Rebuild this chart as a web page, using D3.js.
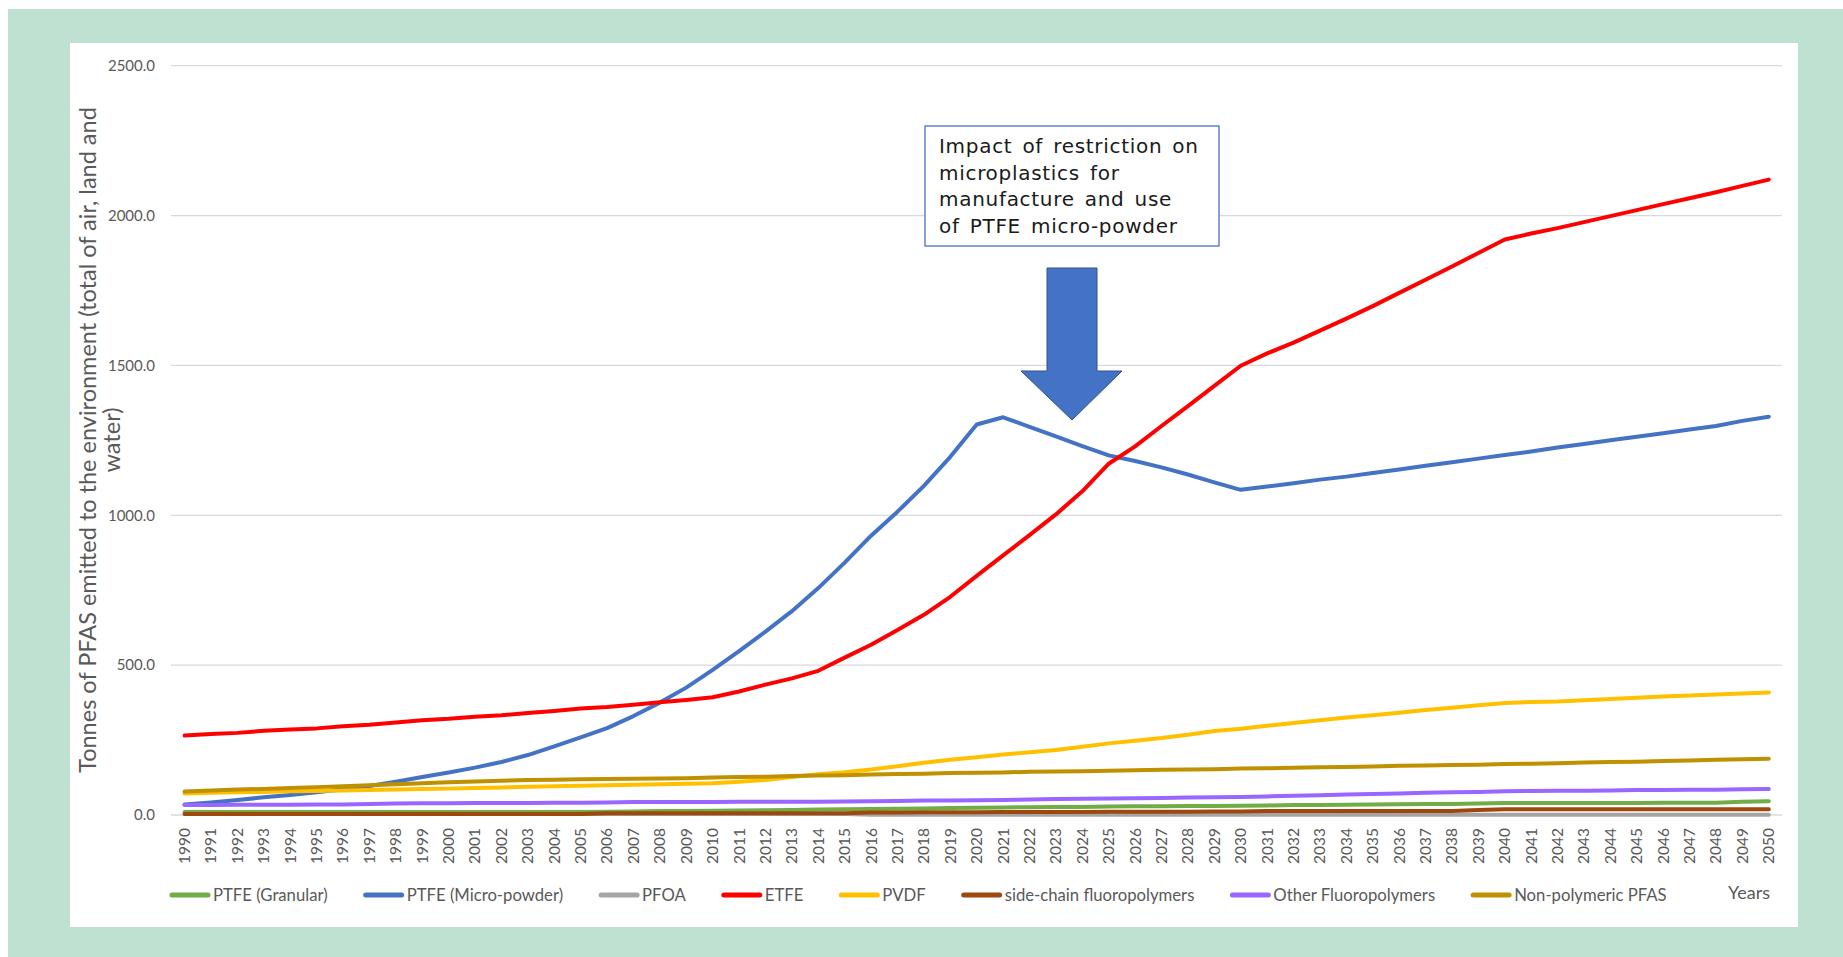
<!DOCTYPE html>
<html>
<head>
<meta charset="utf-8">
<script src="https://cdn.jsdelivr.net/npm/d3@7"></script>
<style>
  html, body { margin: 0; padding: 0; background: #fff; }
  svg { display: block; }
</style>
</head>
<body>
<div id="chart"></div>
<script>
const width = 1843;
const height = 957;

// categories (x axis)
const years = [1990, 1991, 1992, 1993, 1994, 1995, 1996, 1997, 1998, 1999,
  2000, 2001, 2002, 2003, 2004, 2005, 2006, 2007, 2008, 2009,
  2010, 2011, 2012, 2013, 2014, 2015, 2016, 2017, 2018, 2019,
  2020, 2021, 2022, 2023, 2024, 2025, 2026, 2027, 2028, 2029,
  2030, 2031, 2032, 2033, 2034, 2035, 2036, 2037, 2038, 2039,
  2040, 2041, 2042, 2043, 2044, 2045, 2046, 2047, 2048, 2049, 2050];

// tonnes per year
const ptfeGranular = [10, 10, 10, 10, 10, 10, 10, 10, 10, 10,
  10, 10, 10, 10, 10, 10, 11, 12, 13, 13,
  14, 15, 16, 17, 18, 19, 20, 21, 22, 23,
  24, 25, 26, 27, 27, 28, 29, 29, 30, 30,
  31, 32, 33, 33, 34, 35, 36, 37, 37, 38,
  40, 40, 40, 40, 40, 40, 41, 41, 41, 44, 46];
const ptfeMicro = [35, 42, 50, 59, 67, 76, 86, 97, 111, 127,
  142, 158, 177, 200, 229, 259, 290, 330, 375, 425,
  484, 547, 612, 680, 757, 842, 932, 1012, 1098, 1195,
  1303, 1327, 1295, 1263, 1231, 1200, 1181, 1160, 1136, 1110,
  1085, 1096, 1107, 1119, 1129, 1141, 1153, 1165, 1177, 1189,
  1201, 1213, 1226, 1238, 1250, 1262, 1274, 1286, 1298, 1315, 1329];
const pfoa = [3, 3, 3, 3, 3, 3, 3, 3, 3, 3,
  3, 3, 3, 3, 3, 3, 3, 3, 3, 3,
  3, 3, 3, 3, 3, 3, 1, 1, 1, 1,
  1, 1, 1, 1, 1, 1, 1, 1, 1, 1,
  1, 1, 1, 1, 1, 1, 1, 1, 1, 1,
  1, 1, 1, 1, 1, 1, 1, 1, 1, 1, 1];
const etfe = [265, 270, 274, 281, 285, 289, 296, 301, 309, 316,
  321, 328, 333, 340, 347, 355, 360, 368, 376, 384,
  393, 412, 435, 456, 481, 525, 568, 617, 668, 728,
  798, 866, 934, 1003, 1080, 1172, 1230, 1298, 1364, 1432,
  1499, 1540, 1576, 1616, 1656, 1698, 1742, 1786, 1830, 1875,
  1920, 1940, 1958, 1978, 1998, 2018, 2038, 2058, 2078, 2099, 2120];
const pvdf = [72, 74, 76, 77, 79, 80, 82, 83, 85, 87,
  88, 90, 92, 94, 96, 98, 99, 101, 103, 104,
  106, 111, 117, 127, 136, 143, 152, 163, 174, 184,
  193, 202, 209, 217, 228, 239, 248, 257, 268, 280,
  288, 298, 307, 316, 325, 333, 341, 350, 358, 366,
  374, 377, 379, 383, 387, 391, 395, 399, 402, 405, 409];
const sideChain = [3, 3, 3, 3, 3, 3, 3, 3, 3, 3,
  3, 3, 3, 3, 3, 3, 6, 6, 6, 6,
  6, 6, 6, 6, 6, 6, 8, 8, 9, 9,
  9, 10, 10, 10, 10, 11, 11, 11, 11, 12,
  12, 13, 13, 13, 13, 13, 13, 13, 13, 17,
  19, 19, 19, 19, 19, 19, 19, 19, 19, 19, 19];
const otherFluoro = [33, 33, 34, 34, 34, 35, 35, 37, 38, 39,
  39, 40, 40, 40, 41, 41, 42, 43, 43, 43,
  43, 44, 44, 44, 44, 45, 46, 47, 48, 48,
  49, 50, 52, 53, 54, 55, 56, 57, 58, 59,
  60, 62, 64, 66, 68, 70, 72, 74, 76, 77,
  79, 80, 81, 81, 82, 83, 83, 84, 84, 86, 87];
const nonPolymeric = [78, 82, 85, 87, 90, 93, 96, 99, 103, 106,
  109, 112, 114, 117, 118, 119, 120, 121, 122, 123,
  125, 127, 128, 130, 132, 133, 135, 137, 138, 140,
  141, 142, 144, 145, 146, 148, 149, 151, 152, 153,
  155, 156, 158, 159, 160, 162, 164, 165, 167, 168,
  170, 171, 173, 175, 177, 178, 180, 182, 184, 186, 188];

const seriesNames = ["PTFE (Granular)", "PTFE (Micro-powder)", "PFOA", "ETFE", "PVDF",
  "side-chain fluoropolymers", "Other Fluoropolymers", "Non-polymeric PFAS"];
const seriesValues = [ptfeGranular, ptfeMicro, pfoa, etfe, pvdf, sideChain, otherFluoro, nonPolymeric];
const seriesColors = ["#70AD47", "#4472C4", "#A5A5A5", "#FF0000", "#FFC000", "#9E480E", "#9966FF", "#BF9000"];

const yTicks = [0, 500, 1000, 1500, 2000, 2500];
const yTitleLines = ["Tonnes of PFAS emitted to the environment (total of air, land and", "water)"];
const noteLines = ["Impact of restriction on", "microplastics for", "manufacture and use", "of PTFE micro-powder"];

const baseFont = "Lato, 'Open Sans', sans-serif";
const textGray = "#595959";

const x = d3.scaleBand().domain(years).range([171.4, 1782]);
const y = d3.scaleLinear().domain([0, 2500]).range([815, 65.7]);
const xc = yr => x(yr) + x.bandwidth() / 2;

const svg = d3.select("#chart").append("svg")
  .attr("width", width)
  .attr("height", height);

// green frame + white chart area
svg.append("rect")
  .attr("x", 8).attr("y", 9)
  .attr("width", width - 8).attr("height", height - 9)
  .attr("fill", "#BEE1D2");
svg.append("rect")
  .attr("x", 70).attr("y", 43)
  .attr("width", 1728).attr("height", 884)
  .attr("fill", "#fff");

// gridlines
svg.append("g")
  .selectAll("line")
  .data(yTicks)
  .join("line")
    .attr("x1", 171).attr("x2", 1782)
    .attr("y1", d => y(d)).attr("y2", d => y(d))
    .attr("stroke", "#D9D9D9")
    .attr("stroke-width", 1.3);

// y tick labels
svg.append("g")
  .selectAll("text")
  .data(yTicks)
  .join("text")
    .attr("x", 155)
    .attr("y", d => y(d))
    .attr("dy", "0.35em")
    .attr("text-anchor", "end")
    .style("font-family", baseFont)
    .style("font-size", "15px")
    .style("fill", textGray)
    .text(d => d3.format(".1f")(d));

// x tick labels, rotated
svg.append("g")
  .selectAll("text")
  .data(years)
  .join("text")
    .attr("transform", d => `translate(${xc(d)}, 828) rotate(-90)`)
    .attr("dy", "0.35em")
    .attr("text-anchor", "end")
    .style("font-family", baseFont)
    .style("font-size", "15.5px")
    .style("fill", textGray)
    .text(d => d);

// y axis title (two lines)
svg.append("g")
  .selectAll("text")
  .data(yTitleLines)
  .join("text")
    .attr("transform", (d, i) => `translate(${88 + i * 24}, 440) rotate(-90)`)
    .attr("dy", "0.35em")
    .attr("text-anchor", "middle")
    .style("font-family", baseFont)
    .style("font-size", "23.5px")
    .style("fill", textGray)
    .text(d => d);

// series lines
const line = d3.line()
  .x((d, i) => xc(years[i]))
  .y(d => y(d));

svg.append("g")
  .selectAll("path")
  .data(seriesValues)
  .join("path")
    .attr("d", d => line(d))
    .attr("fill", "none")
    .attr("stroke", (d, i) => seriesColors[i])
    .attr("stroke-width", 4)
    .attr("stroke-linejoin", "round")
    .attr("stroke-linecap", "round");

// legend, laid out left to right
const legend = svg.append("g");
let lx = 170;
const ly = 895;
seriesNames.forEach((name, i) => {
  legend.append("line")
    .attr("x1", lx + 2).attr("x2", lx + 38)
    .attr("y1", ly).attr("y2", ly)
    .attr("stroke", seriesColors[i])
    .attr("stroke-width", 5)
    .attr("stroke-linecap", "round");
  const t = legend.append("text")
    .attr("x", lx + 43)
    .attr("y", ly)
    .attr("dy", "0.35em")
    .style("font-family", baseFont)
    .style("font-size", "16.7px")
    .style("fill", textGray)
    .text(name);
  lx += 43 + t.node().getComputedTextLength() + 36;
});

svg.append("text")
  .attr("x", 1728)
  .attr("y", 893)
  .attr("dy", "0.35em")
  .style("font-family", baseFont)
  .style("font-size", "18px")
  .style("fill", textGray)
  .text("Years");

// annotation box
svg.append("rect")
  .attr("x", 925).attr("y", 126)
  .attr("width", 294).attr("height", 120)
  .attr("fill", "#fff")
  .attr("stroke", "#4472C4")
  .attr("stroke-width", 1.3);

svg.append("g")
  .selectAll("text")
  .data(noteLines)
  .join("text")
    .attr("x", 939)
    .attr("y", (d, i) => 153 + i * 26.7)
    .style("font-family", "'DejaVu Sans', Verdana, sans-serif")
    .style("font-size", "20px")
    .style("letter-spacing", "0.7px")
    .style("word-spacing", "3px")
    .style("fill", "#1a1a1a")
    .text(d => d);

// down arrow
svg.append("path")
  .attr("d", "M1047,268 L1097,268 L1097,371 L1122,371 L1072,420 L1021,371 L1047,371 Z")
  .attr("fill", "#4472C4")
  .attr("stroke", "#2F528F")
  .attr("stroke-width", 1);
</script>
</body>
</html>
